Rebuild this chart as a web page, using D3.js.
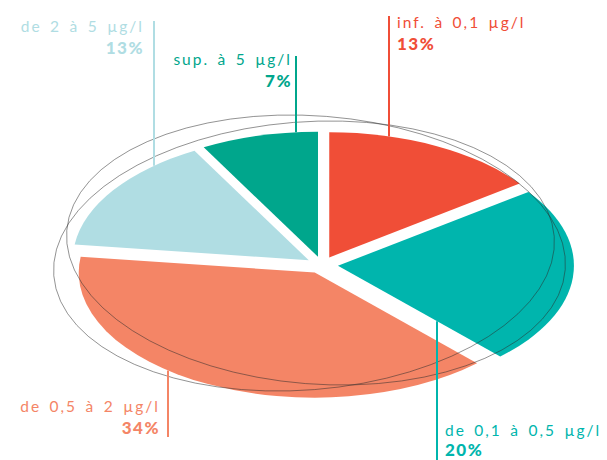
<!DOCTYPE html>
<html>
<head>
<meta charset="utf-8">
<script src="https://cdn.jsdelivr.net/npm/d3@7"></script>
<style>
  html, body { margin: 0; padding: 0; background: #ffffff; }
  svg { display: block; }
  .cat { font-family: Lato, "Open Sans", sans-serif; font-size: 15.5px; letter-spacing: 2px; word-spacing: 2.5px; }
  .pct { font-family: Lato, "Open Sans", sans-serif; font-size: 17px; font-weight: 900; letter-spacing: 1.5px; }
</style>
</head>
<body>
<svg id="chart" width="607" height="460"></svg>
<script>
// Concentration classes, clockwise from 12 o'clock
const categories = ["inf. à 0,1 µg/l", "de 0,1 à 0,5 µg/l", "de 0,5 à 2 µg/l", "de 2 à 5 µg/l", "sup. à 5 µg/l"];
const shares = [13, 20, 34, 13, 7];
const shareLabels = ["13%", "20%", "34%", "13%", "7%"];
const palette = ["#f04e37", "#00b5ad", "#f48566", "#b0dde3", "#00a68c"];

// Geometry of the flattened, exploded pie
const cx = 322, cy = 265, R = 236, tilt = 0.53, explode = 16;

// Label placement: text anchor point and which side the leader comes from
const labelLayout = [
  { x: 397, y: 28,  anchor: "start", lineX: 389, lineEnd: 16,  from: "top",    gap: 22 },
  { x: 445, y: 436, anchor: "start", lineX: 437, lineEnd: 460, from: "bottom", gap: 20 },
  { x: 160, y: 412, anchor: "end",   lineX: 168, lineEnd: 437, from: "bottom", gap: 22 },
  { x: 144, y: 32,  anchor: "end",   lineX: 154, lineEnd: 21,  from: "top",    gap: 22 },
  { x: 292, y: 65,  anchor: "end",   lineX: 296, lineEnd: 56,  from: "top",    gap: 22 }
];

const svg = d3.select("#chart");

const pie = d3.pie().sort(null).value(d => d).startAngle(0).endAngle(2 * Math.PI);
const slices = pie(shares);
const arc = d3.arc().innerRadius(0).outerRadius(R);

// Screen position of each slice's tip after pulling it out along its bisector
function tipOf(s) {
  const mid = (s.startAngle + s.endAngle) / 2;
  return [cx + explode * Math.sin(mid), cy - explode * Math.cos(mid) * tilt];
}

// Outline of a slice in screen space (used to find where a leader meets it)
function outline(s) {
  const [tx, ty] = tipOf(s);
  const pts = [[tx, ty]];
  const n = 80;
  for (let i = 0; i <= n; i++) {
    const a = s.startAngle + (s.endAngle - s.startAngle) * i / n;
    pts.push([tx + R * Math.sin(a), ty - R * Math.cos(a) * tilt]);
  }
  return pts;
}

function crossings(poly, x) {
  const ys = [];
  for (let i = 0; i < poly.length; i++) {
    const [x1, y1] = poly[i];
    const [x2, y2] = poly[(i + 1) % poly.length];
    if ((x1 - x) * (x2 - x) <= 0 && x1 !== x2) {
      ys.push(y1 + (y2 - y1) * (x - x1) / (x2 - x1));
    }
  }
  return ys;
}

// Slices
svg.append("g")
  .selectAll("g")
  .data(slices)
  .join("g")
  .attr("transform", d => {
    const [tx, ty] = tipOf(d);
    return `translate(${tx},${ty}) scale(1,${tilt})`;
  })
  .append("path")
  .attr("d", arc)
  .attr("fill", (d, i) => palette[i]);

// Thin outline rings around the pie
const rings = [
  { cx: 316, cy: 250, rx: 250, ry: 134, rot: 4.5 },
  { cx: 304, cy: 256, rx: 251, ry: 134, rot: -4.5 }
];
svg.append("g")
  .selectAll("ellipse")
  .data(rings)
  .join("ellipse")
  .attr("cx", 0).attr("cy", 0)
  .attr("rx", d => d.rx).attr("ry", d => d.ry)
  .attr("transform", d => `translate(${d.cx},${d.cy}) rotate(${d.rot})`)
  .attr("fill", "none")
  .attr("stroke", "#2b2b2b")
  .attr("stroke-opacity", 0.55)
  .attr("stroke-width", 0.9);

// Leaders and labels
const labels = svg.append("g");
slices.forEach((s, i) => {
  const L = labelLayout[i];
  const ys = crossings(outline(s), L.lineX);
  const edge = L.from === "top" ? d3.min(ys) : d3.max(ys);
  labels.append("line")
    .attr("x1", L.lineX).attr("x2", L.lineX)
    .attr("y1", L.lineEnd).attr("y2", edge)
    .attr("stroke", palette[i])
    .attr("stroke-width", 2);
  labels.append("text")
    .attr("class", "cat")
    .attr("x", L.x).attr("y", L.y)
    .attr("text-anchor", L.anchor)
    .attr("fill", palette[i])
    .text(categories[i]);
  labels.append("text")
    .attr("class", "pct")
    .attr("x", L.x).attr("y", L.y + L.gap)
    .attr("text-anchor", L.anchor)
    .attr("fill", palette[i])
    .text(shareLabels[i]);
});
</script>
</body>
</html>
